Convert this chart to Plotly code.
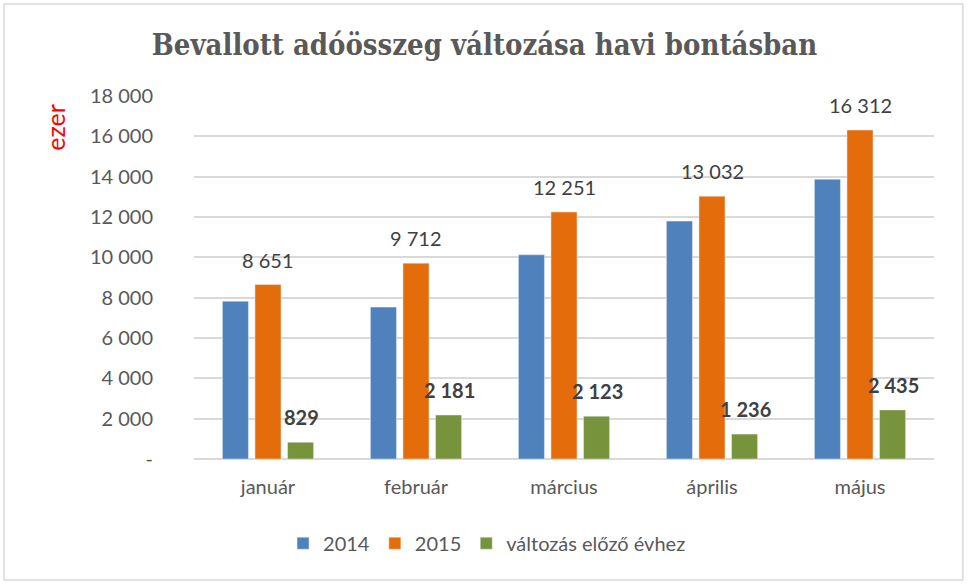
import plotly.graph_objects as go

months = ["január", "február", "március", "április", "május"]
v2014 = [7822, 7531, 10128, 11796, 13877]
v2015 = [8651, 9712, 12251, 13032, 16312]
change = [829, 2181, 2123, 1236, 2435]
tick_vals = [0, 2000, 4000, 6000, 8000, 10000, 12000, 14000, 16000, 18000]
tick_text = ["-", "2 000", "4 000", "6 000", "8 000", "10 000", "12 000", "14 000", "16 000", "18 000"]

def fmt(v):
    return f"{v:,}".replace(",", " ")

FONT = "Lato, Liberation Sans, sans-serif"
fig = go.Figure()
fig.add_trace(go.Bar(name="2014", x=months, y=v2014, marker_color="#4f81bd"))
fig.add_trace(go.Bar(name="2015", x=months, y=v2015, marker_color="#e46c0a"))
fig.add_trace(go.Bar(name="változás előző évhez", x=months, y=change, marker_color="#77933c"))

for m, v in zip(months, v2015):
    fig.add_annotation(x=m, y=v, text=fmt(v), showarrow=False, yanchor="bottom",
                       yshift=11, font=dict(family=FONT, size=20, color="#404040"))
for m, v in zip(months, change):
    fig.add_annotation(x=m, y=v, text="<b>" + fmt(v) + "</b>", showarrow=False, yanchor="bottom",
                       xshift=33, yshift=11, font=dict(family=FONT, size=20, color="#404040"))

fig.add_annotation(xref="paper", yref="paper", x=-0.188, y=0.985, text="ezer", textangle=-90,
                   showarrow=False, xanchor="center", yanchor="top",
                   font=dict(family=FONT, size=25, color="#ff0000"))

fig.add_shape(type="rect", xref="paper", yref="paper", x0=-0.2568, x1=1.039, y0=-0.3333, y1=1.2534,
              line=dict(color="#d9d9d9", width=1.5), fillcolor="rgba(0,0,0,0)", layer="below")

fig.update_layout(
    width=969, height=585,
    margin=dict(l=194, r=35, t=96, b=126),
    paper_bgcolor="white", plot_bgcolor="white",
    title=dict(text="<b>Bevallott adóösszeg változása havi bontásban</b>", x=0.5, xref="container",
               xanchor="center", y=0.923, yanchor="middle",
               font=dict(family="DejaVu Serif Condensed, DejaVu Serif, serif", size=29, color="#595959")),
    barmode="group", bargap=0.34, bargroupgap=0.2,
    legend=dict(orientation="h", x=0.396, xanchor="center", y=-0.232, yanchor="middle",
                font=dict(family=FONT, size=20, color="#595959"), itemwidth=30),
    yaxis=dict(range=[0, 18000], tickvals=tick_vals, ticktext=tick_text, showgrid=True,
               gridcolor="#d9d9d9", gridwidth=1.5, zeroline=True, zerolinecolor="#d9d9d9", zerolinewidth=1.5,
               tickfont=dict(family=FONT, size=20, color="#595959"), ticks="",
               ticklabelstandoff=40, showline=False),
    xaxis=dict(tickfont=dict(family=FONT, size=20, color="#595959"), showline=False, ticks="",
               ticklabelstandoff=14),
)
fig.write_html("out.html", config={"displayModeBar": False},
               post_script="document.body.style.margin='0';")
